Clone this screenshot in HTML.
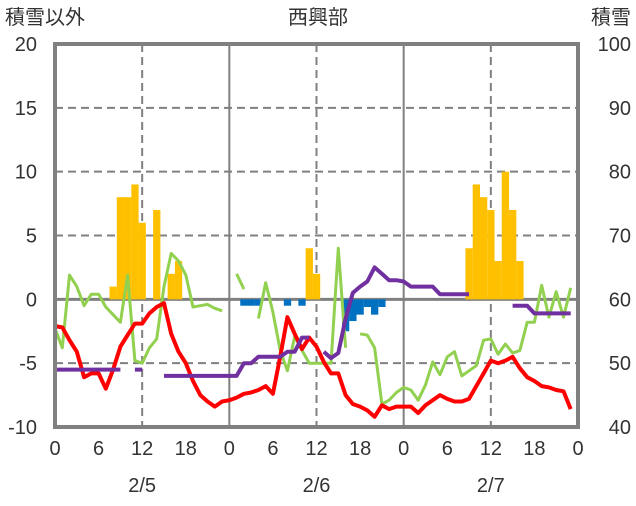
<!DOCTYPE html>
<html><head><meta charset="utf-8">
<style>
html,body{margin:0;padding:0;background:#fff;}
svg text{font-family:"Liberation Sans","Noto Sans CJK JP",sans-serif;font-size:20px;fill:#333;}
</style></head>
<body>
<svg id="chart" width="636" height="501" xmlns="http://www.w3.org/2000/svg">
<text x="5" y="24">積雪以外</text>
<text x="318" y="24" text-anchor="middle">西興部</text>
<text x="631" y="24" text-anchor="end">積雪</text>
<g id="grid"></g><g id="bars"></g><g id="lines"></g><g id="axes"></g>
</svg>
<script>
const leftTicks=[-10,-5,0,5,10,15,20];
const rightTicks=[40,50,60,70,80,90,100];
const hourTicks=[0,6,12,18];
const dates=["2/5","2/6","2/7"];
const N=null;
const temp=[-2.1,-2.2,-3.2,-4.1,-6.1,-5.8,-5.8,-7.0,-5.5,-3.7,-2.8,-1.9,-1.9,-1.1,-0.6,-0.3,-2.7,-4.1,-5.0,-6.4,-7.5,-8.0,-8.4,-8.0,
-7.9,-7.7,-7.4,-7.3,-7.1,-6.8,-7.4,-4.5,-1.4,-2.7,-3.9,-3.0,-3.7,-4.9,-5.8,-5.8,-7.5,-8.2,-8.4,-8.7,-9.2,-8.3,-8.6,-8.4,
-8.4,-8.4,-8.9,-8.3,-7.9,-7.5,-7.8,-8.0,-8.0,-7.8,-6.8,-5.8,-4.8,-5.0,-4.8,-4.5,-5.4,-6.1,-6.4,-6.8,-6.9,-7.1,-7.2,-8.6];
const wind=[-2.3,-3.8,1.9,1.0,-0.5,0.4,0.4,-0.6,-1.2,-1.8,1.9,-4.8,-5.0,-3.8,-3.1,1.0,3.6,3.0,1.9,-0.6,-0.5,-0.4,-0.7,-0.9,
N,2.0,0.8,N,-1.5,1.3,-1.0,-4.0,-5.6,-2.9,-4.0,-5.0,-5.0,-5.0,-5.0,4.0,-3.8,N,-2.7,-2.8,-3.8,-8.2,-7.9,-7.3,
-6.9,-7.1,-7.9,-6.7,-4.9,-5.9,-4.5,-4.1,-6.0,-5.6,-5.2,-3.2,-3.1,-4.3,-3.5,-4.2,-4.0,-1.8,-1.8,1.1,-1.4,0.6,-1.4,0.9];
const snowDepth=[49,49,49,49,49,49,49,49,49,49,N,49,49,N,N,48,48,48,48,48,48,48,48,48,
48,48,50,50,51,51,51,51,51.8,51.8,54,54,N,51.8,50.8,51.6,57,61,62,62.8,65,64,63,63,
62.8,62,62,62,62,60.8,60.8,60.8,60.8,60.8,N,N,N,N,N,59,59,59,57.8,57.8,57.8,57.8,57.8,57.8];
const precip=[0,0,0,0,0,0,0,0,1,8,8,9,6,0,7,0,2,3,0,0,0,0,0,0,
0,0,-0.5,-0.5,-0.5,0,0,0,-0.5,0,-0.5,4,2,0,0,0,-2.5,-1.7,-1.2,-0.6,-1.2,-0.6,0,0,
0,0,0,0,0,0,0,0,0,4,9,8,7,3,10,7,3,0,0,0,0,0,0,0];
const X0=55,X1=578,Y0=44,Y1=427;
const xs=h=>X0+h*(X1-X0)/72;
const yl=v=>Y1-(v+10)*(Y1-Y0)/30;
const yr=v=>Y1-(v-40)*(Y1-Y0)/60;
const NS="http://www.w3.org/2000/svg";
function mk(tag,parent,attrs){const e=document.createElementNS(NS,tag);for(const k in attrs)e.setAttribute(k,attrs[k]);document.getElementById(parent).appendChild(e);return e;}
leftTicks.forEach(t=>{if(t===-10||t===20)return;
 const l=mk('line','grid',{x1:X0,x2:X1,y1:yl(t),y2:yl(t),stroke:'#808080','stroke-width':t===0?3:2,'stroke-dasharray':t===0?'none':'8,5'});
 
 });
dates.forEach((d,i)=>{
 const g=mk('line','grid',{x1:xs(i*24+12),x2:xs(i*24+12),y1:Y0,y2:Y1,stroke:'#808080','stroke-width':2,'stroke-dasharray':'8,5'});
 
 
 if(i>0){const s=mk('line','grid',{x1:xs(i*24),x2:xs(i*24),y1:Y0,y2:Y1,stroke:'#808080','stroke-width':2});
 
 }
});
precip.forEach((v,h)=>{if(!v)return;
 const y=v>0?yl(v):yl(0), ht=Math.abs(yl(v)-yl(0));
 const b=mk('rect','bars',{x:xs(h)-3.6,y:y,width:7.3,height:ht,fill:v>0?'#FFC000':'#0070C0'});
 
 });
function line(arr,fy,color,w,name){let d='',pen=false;
 arr.forEach((v,h)=>{if(v===null){pen=false;return;}d+=(pen?'L':'M')+xs(h).toFixed(1)+','+fy(v).toFixed(1)+' ';pen=true;});
 const p=mk('path','lines',{d:d,fill:'none',stroke:color,'stroke-width':w,'stroke-linejoin':'round'});
 
 }
line(wind,yl,'#92D050',3,'wind-line');
line(temp,yl,'#FF0000',4,'temperature-line');
line(snowDepth,yr,'#7030A0',4,'snow-depth-line');
const f=mk('rect','axes',{x:X0,y:Y0,width:X1-X0,height:Y1-Y0,fill:'none',stroke:'#808080','stroke-width':4});


leftTicks.forEach(t=>{const e=mk('text','axes',{x:37,y:yl(t)+7,'text-anchor':'end'});e.textContent=t;
 
 });
rightTicks.forEach(t=>{const e=mk('text','axes',{x:631,y:yr(t)+7,'text-anchor':'end'});e.textContent=t;
 
 });
for(let d=0;d<=3;d++){hourTicks.forEach(t=>{if(d===3&&t>0)return;
 const e=mk('text','axes',{x:xs(d*24+t),y:455,'text-anchor':'middle'});e.textContent=t;
 
 });}
dates.forEach((d,i)=>{const e=mk('text','axes',{x:xs(i*24+12),y:492,'text-anchor':'middle'});e.textContent=d;
 
 });
</script>
</body></html>
